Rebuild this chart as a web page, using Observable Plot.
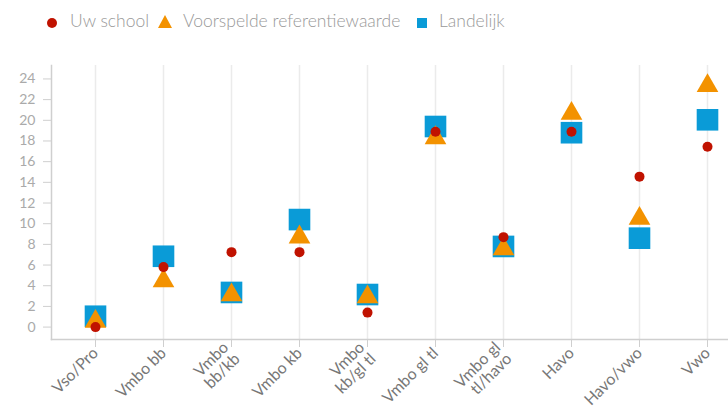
<!DOCTYPE html>
<html><head><meta charset="utf-8">
<script src="https://cdn.jsdelivr.net/npm/d3@7"></script>
<script src="https://cdn.jsdelivr.net/npm/@observablehq/plot@0.6"></script>
<style>
body{margin:0;background:#fff;font-family:Lato,"Open Sans",sans-serif;}
#legend{height:40px;position:relative;font-size:17.5px;font-weight:300;color:#999;}
#legend span{position:absolute;top:10px;white-space:nowrap;}
#legend i{position:absolute;display:block;}
</style></head><body>
<div id="legend"></div>
<div id="chart"></div>
<script>
const categories = ["Vso/Pro","Vmbo bb","Vmbo bb/kb","Vmbo kb","Vmbo kb/gl tl","Vmbo gl tl","Vmbo gl tl/havo","Havo","Havo/vwo","Vwo"];
const tickLabels = ["Vso/Pro","Vmbo bb","Vmbo\nbb/kb","Vmbo kb","Vmbo\nkb/gl tl","Vmbo gl tl","Vmbo gl\ntl/havo","Havo","Havo/vwo","Vwo"];
const uwSchool = [0.0, 5.8, 7.25, 7.25, 1.4, 18.9, 8.7, 18.9, 14.55, 17.45];
const voorspeld = [0.55, 4.45, 3.1, 8.7, 2.9, 18.3, 7.55, 20.65, 10.5, 23.35];
const landelijk = [1.05, 6.85, 3.35, 10.4, 3.15, 19.4, 7.8, 18.8, 8.6, 20.05];
const seriesNames = ["Uw school","Voorspelde referentiewaarde","Landelijk"];
const colors = ["#c01200","#f39200","#0a9bd7"];

const rows = categories.map((c,i)=>({cat:c, school:uwSchool[i], ref:voorspeld[i], land:landelijk[i]}));
const labelOf = new Map(categories.map((c,i)=>[c,tickLabels[i]]));

// legend
const lg = document.getElementById("legend");
lg.innerHTML = `
<i style="left:47px;top:18px;width:10px;height:10px;border-radius:50%;background:${colors[0]}"></i>
<span style="left:70px">${seriesNames[0]}</span>
<i style="left:158px;top:15px;width:0;height:0;border-left:7px solid transparent;border-right:7px solid transparent;border-bottom:13px solid ${colors[1]}"></i>
<span style="left:183px">${seriesNames[1]}</span>
<i style="left:417px;top:18px;width:10px;height:10px;background:${colors[2]}"></i>
<span style="left:439px">${seriesNames[2]}</span>`;

const chart = Plot.plot({
  width: 728,
  height: 377,
  marginTop: 25,
  marginBottom: 78,
  marginLeft: 51,
  marginRight: 0,
  style: {fontFamily: "Lato, sans-serif", background: "#fff"},
  x: {type: "point", domain: categories, range: [92.3, 709], padding: 0, label: null},
  y: {domain: [-1.2, 25.3], label: null},
  marks: [
    Plot.ruleX(categories, {x: d => d, stroke: "#ebebeb", strokeWidth: 1.5}),
    Plot.frame({anchor: "left", stroke: "#cfcfcf", strokeWidth: 1.5}),
    Plot.frame({anchor: "bottom", stroke: "#cfcfcf", strokeWidth: 1.5}),
    Plot.axisY({ticks: d3.range(0, 25, 2), tickSize: 8, tickPadding: 8, stroke: "#cfcfcf", fill: "#aaa", fontSize: 14, label: null}),
    Plot.axisX({tickRotate: -45, tickSize: 8, tickPadding: 3, stroke: "#cfcfcf", fill: "#777", fontSize: 16, tickFormat: d => labelOf.get(d), label: null}),
    Plot.dot(rows, {x: "cat", y: "land", symbol: "square", r: 12.2, fill: colors[2], stroke: null}),
    Plot.dot(rows, {x: "cat", y: "ref", symbol: "triangle", r: 8.05, fill: colors[1], stroke: null}),
    Plot.dot(rows, {x: "cat", y: "school", symbol: "circle", r: 5, fill: colors[0], stroke: null})
  ]
});
document.getElementById("chart").appendChild(chart);
</script>
</body></html>
